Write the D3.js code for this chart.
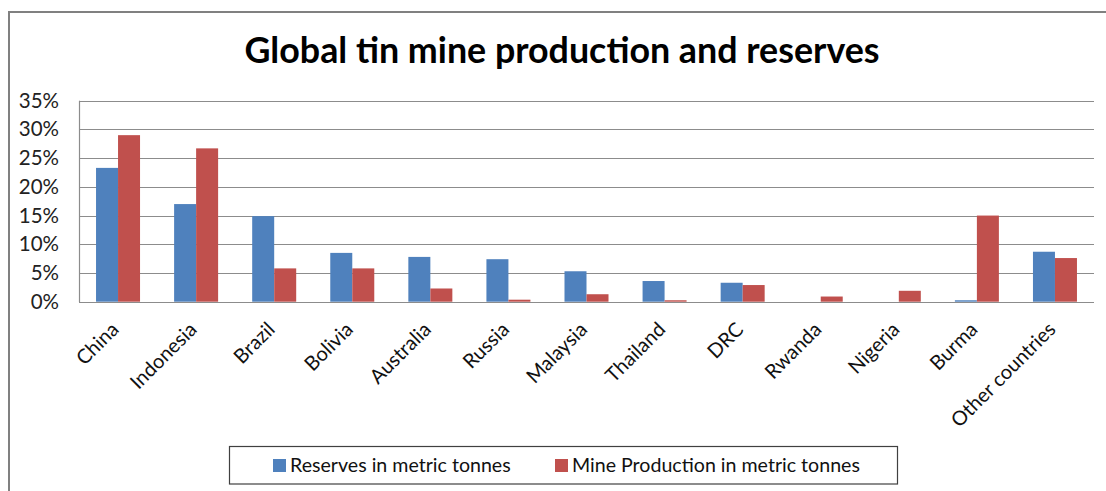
<!DOCTYPE html>
<html>
<head>
<meta charset="utf-8">
<script src="https://cdn.jsdelivr.net/npm/d3@7"></script>
<style>
  html, body { margin: 0; padding: 0; background: #fff; }
  svg { display: block; }
  text { font-family: Lato, "Open Sans", sans-serif; }
</style>
</head>
<body>
<svg id="chart" width="1106" height="491"></svg>
<script>
// Share of world tin: reserves vs. mine production, by country
const countries = ["China", "Indonesia", "Brazil", "Bolivia", "Australia", "Russia",
  "Malaysia", "Thailand", "DRC", "Rwanda", "Nigeria", "Burma", "Other countries"];
const reserves   = [0.233, 0.170, 0.149, 0.085, 0.078, 0.074, 0.053, 0.036, 0.033, 0.000, 0.000, 0.0025, 0.087];
const production = [0.290, 0.267, 0.058, 0.058, 0.023, 0.0035, 0.013, 0.0025, 0.029, 0.009, 0.019, 0.150, 0.076];
const seriesNames = ["Reserves in metric tonnes", "Mine Production in metric tonnes"];
const seriesColors = ["#4F81BD", "#C0504D"];
const yTicks = [0, 0.05, 0.10, 0.15, 0.20, 0.25, 0.30, 0.35];
const title = "Global tin mine production and reserves";

const svg = d3.select("#chart");
const W = 1106, H = 491;
const plot = { left: 79, right: 1094, top: 100.7, bottom: 301.7 };

// outer chart frame
svg.append("rect")
  .attr("x", 9).attr("y", 12).attr("width", W + 10).attr("height", H + 10)
  .attr("fill", "#fff").attr("stroke", "#808080").attr("stroke-width", 2);

// title
svg.append("text")
  .attr("x", 562).attr("y", 63)
  .attr("text-anchor", "middle")
  .attr("font-size", 35.8).attr("font-weight", 700).attr("fill", "#000")
  .text(title);

const x0 = d3.scaleBand().domain(countries).range([plot.left, plot.right]).padding(0);
const groupW = x0.bandwidth() * 0.5636;
const x1 = d3.scaleBand().domain(seriesNames).range([0, groupW]).padding(0);
const y = d3.scaleLinear().domain([0, 0.35]).range([plot.bottom, plot.top]);

// horizontal gridlines
svg.append("g").selectAll("line").data(yTicks.slice(1)).join("line")
  .attr("x1", plot.left).attr("x2", plot.right)
  .attr("y1", d => Math.round(y(d)) + 0.5).attr("y2", d => Math.round(y(d)) + 0.5)
  .attr("stroke", "#8c8c8c").attr("stroke-width", 1.2);

// y axis tick labels
const yAxis = d3.axisLeft(y).tickValues(yTicks).tickFormat(d3.format(".0%")).tickSize(0).tickPadding(20);
const ya = svg.append("g").attr("transform", `translate(${plot.left},0)`).call(yAxis);
ya.select(".domain").remove();
ya.selectAll("text").attr("font-size", 20.5).attr("fill", "#222")
  .attr("font-family", "Lato, sans-serif");

// bars
const rows = countries.map((c, i) => ({ c, vals: [reserves[i], production[i]] }));
const groups = svg.append("g").selectAll("g").data(rows).join("g")
  .attr("transform", d => `translate(${x0(d.c) + (x0.bandwidth() - groupW) / 2},0)`);
groups.selectAll("rect").data(d => d.vals.map((v, k) => ({ v, k }))).join("rect")
  .attr("x", d => x1(seriesNames[d.k]))
  .attr("width", x1.bandwidth())
  .attr("y", d => y(d.v))
  .attr("height", d => y(0) - y(d.v))
  .attr("fill", d => seriesColors[d.k]);

// axis lines
svg.append("line").attr("x1", plot.left + 0.5).attr("x2", plot.left + 0.5)
  .attr("y1", plot.top).attr("y2", plot.bottom + 0.5)
  .attr("stroke", "#8c8c8c").attr("stroke-width", 1.2);
svg.append("line").attr("x1", plot.left).attr("x2", plot.right)
  .attr("y1", Math.round(y(0)) + 0.5).attr("y2", Math.round(y(0)) + 0.5)
  .attr("stroke", "#8c8c8c").attr("stroke-width", 1.2);

// category labels, rotated
const xAxis = d3.axisBottom(x0).tickSize(0).tickPadding(0);
const xa = svg.append("g").attr("transform", `translate(0,${plot.bottom})`).call(xAxis);
xa.select(".domain").remove();
xa.selectAll("text")
  .attr("font-size", 20).attr("fill", "#111").attr("font-family", "Lato, sans-serif")
  .attr("text-anchor", "end")
  .attr("dy", 0)
  .attr("transform", "translate(2,29) rotate(-45)");

// legend
const legend = svg.append("g");
legend.append("rect")
  .attr("x", 229.5).attr("y", 446.5).attr("width", 668).attr("height", 37.5)
  .attr("fill", "#fff").attr("stroke", "#404040").attr("stroke-width", 1.2);
const legendItems = [
  { name: seriesNames[0], color: seriesColors[0], sx: 273, tx: 290 },
  { name: seriesNames[1], color: seriesColors[1], sx: 555, tx: 572 }
];
const li = legend.selectAll("g.item").data(legendItems).join("g").attr("class", "item");
li.append("rect").attr("x", d => d.sx).attr("y", 459).attr("width", 13).attr("height", 13)
  .attr("fill", d => d.color);
li.append("text").attr("x", d => d.tx).attr("y", 472)
  .attr("font-size", 19.6).attr("fill", "#111")
  .text(d => d.name);
</script>
</body>
</html>
